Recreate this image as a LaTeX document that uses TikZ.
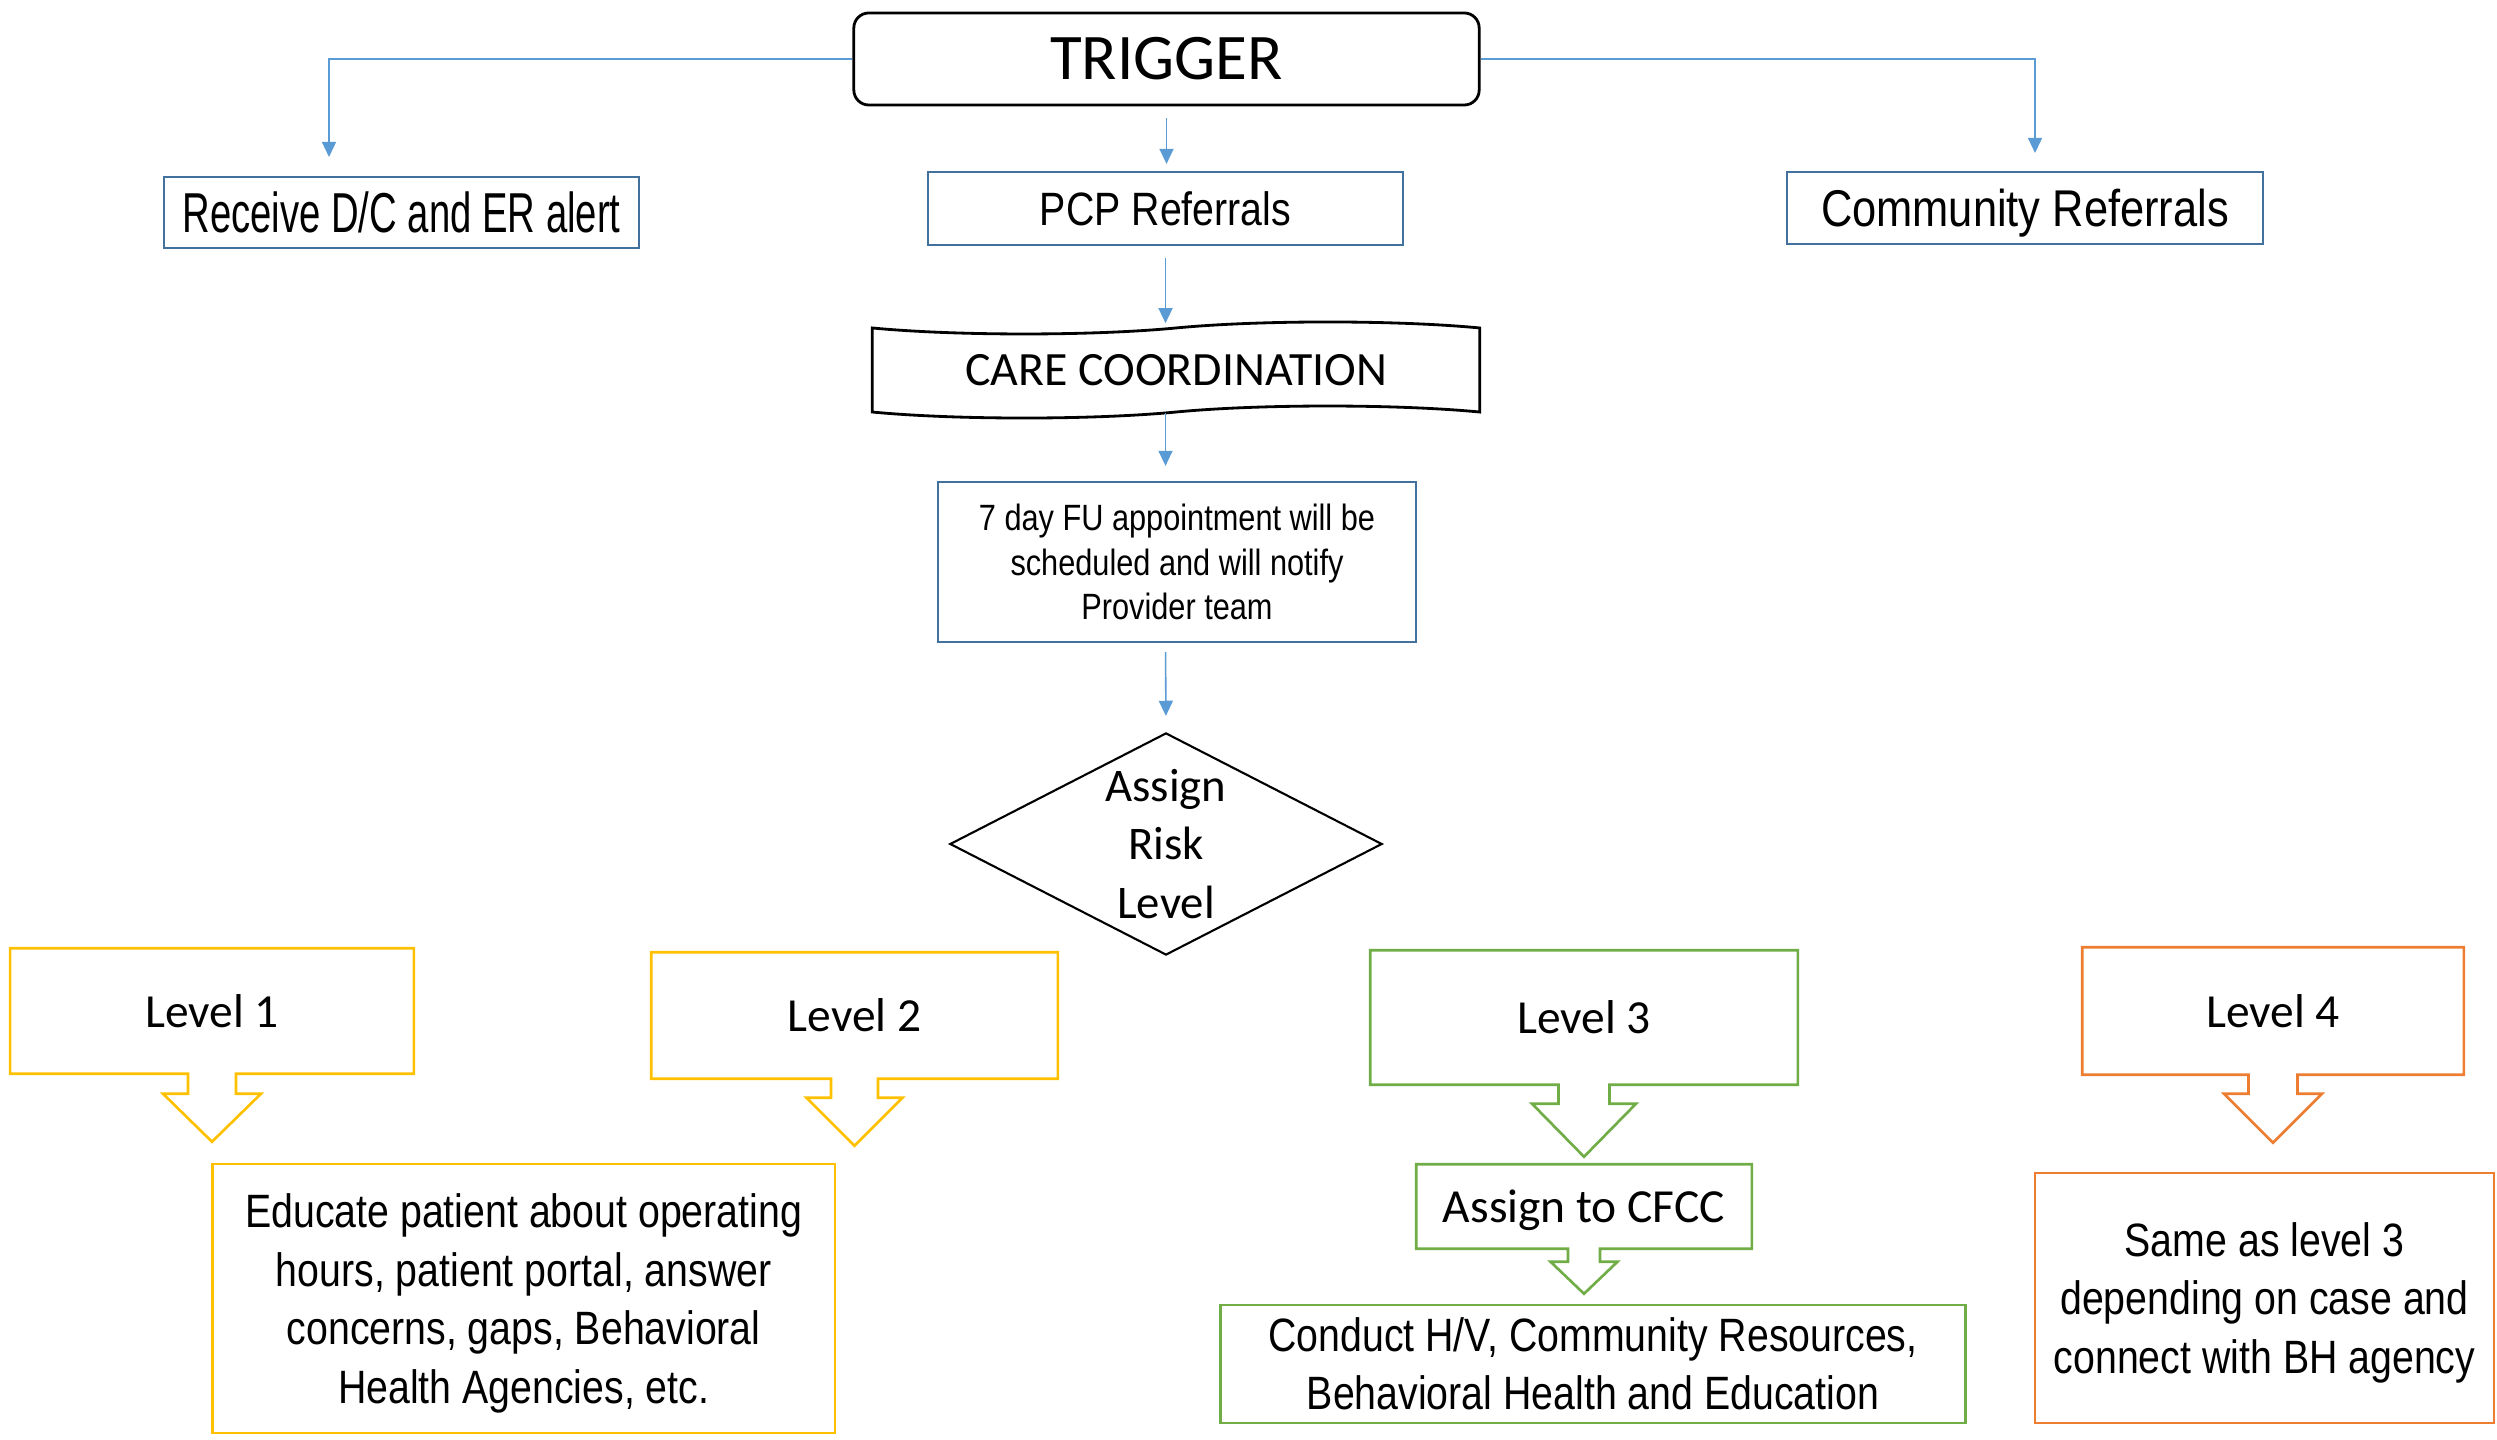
\documentclass[tikz,border=0pt]{standalone}
\usepackage{fontspec}
\setmainfont{Carlito}
\newfontfamily\narrowf[FakeStretch=0.84]{Liberation Sans}
\newfontfamily\widef[FakeStretch=0.68]{Liberation Sans}
\usetikzlibrary{shapes.geometric,shapes.symbols,arrows.meta,calc}
\definecolor{boxblue}{HTML}{41719C}
\definecolor{lineblue}{HTML}{5B9BD5}
\definecolor{lvlyellow}{HTML}{FFC000}
\definecolor{lvlgreen}{HTML}{70AD47}
\definecolor{lvlorange}{HTML}{ED7D31}
\tikzset{
  conn/.style={draw=lineblue, line width=0.45pt, -{Triangle[width=4pt,length=4.3pt]}},
  bluebox/.style={draw=boxblue, line width=0.6pt, inner sep=0pt, font=\narrowf\fontsize{13.3pt}{16.5pt}\selectfont},
  lvlbox/.style={inner sep=0pt, font=\fontsize{13.5pt}{16.5pt}\selectfont},
  textbox/.style={line width=0.75pt, inner sep=0pt, align=center, font=\narrowf\fontsize{13.3pt}{16.6pt}\selectfont},
  callout/.style={line width=0.75pt, line join=miter}
}
% box with a hollow down arrow under it
\newcommand{\levelarrow}[6][]{%
  \draw[callout, #1] (#2.south west) -- (#2.north west) -- (#2.north east) -- (#2.south east)
    -- ($(#2.south)+(#3,0)$) -- ($(#2.south)+(#3,#4)$) -- ($(#2.south)+(#5,#4)$)
    -- ($(#2.south)+(0,#4+#6)$) -- ($(#2.south)+(-#5,#4)$)
    -- ($(#2.south)+(-#3,#4)$) -- ($(#2.south)+(-#3,0)$) -- cycle;}
\begin{document}
\begin{tikzpicture}[x=0.01cm, y=-0.01cm]
\useasboundingbox (0,0) rectangle (2497,1440);
% top row
\node[draw, rounded corners=0.15cm, line width=0.8pt, minimum width=6.25cm, minimum height=0.92cm, font=\fontsize{18.5pt}{22pt}\selectfont] (trigger) at (1166.5,59) {TRIGGER};
\node[bluebox, minimum width=4.75cm, minimum height=0.71cm, font=\widef\fontsize{16pt}{19pt}\selectfont, text depth=0pt] (receive) at (401.5,212.5) {Receive D/C and ER alert};
\node[bluebox, minimum width=4.75cm, minimum height=0.73cm] (pcp) at (1165.5,208.5) {PCP Referrals};
\node[bluebox, minimum width=4.76cm, minimum height=0.72cm, font=\narrowf\fontsize{14.7pt}{17pt}\selectfont, text depth=0pt] (community) at (2025,208) {Community Referrals};
\coordinate (receivetip) at (329,157);
\coordinate (communitytip) at (2035,153);
\draw[conn] (trigger.west) -| (receivetip);
\draw[conn] (trigger.east) -| (communitytip);
\draw[conn, shorten <=0.12cm, shorten >=0.07cm] (trigger.south) -- (trigger.south |- pcp.north);
% middle column
\node[tape, draw, line width=0.8pt, minimum width=6.07cm, minimum height=0.96cm, tape bend height=0.12cm, inner sep=0pt, font=\fontsize{13.6pt}{16pt}\selectfont] (care) at (1176,370) {CARE COORDINATION};
\draw[conn, shorten <=0.12cm, shorten >=0.04cm] (pcp.south) -- (pcp.south |- care.north);
\node[bluebox, minimum width=4.78cm, minimum height=1.6cm, align=center, font=\narrowf\fontsize{10.4pt}{12.7pt}\selectfont] (fu) at (1177,562) {7 day FU appointment will be\\scheduled and will notify\\Provider team};
\draw[conn, shorten >=0.15cm] (care.south -| pcp) -- (fu.north -| pcp);
\node[diamond, draw, line width=0.6pt, minimum width=4.32cm, minimum height=2.22cm, inner sep=0pt] (risk) at (1166,844) {};
\node[align=center, font=\fontsize{13.3pt}{16.6pt}\selectfont] (risktext) at (risk) {Assign\\Risk\\Level};
\draw[conn, shorten <=0.09cm, shorten >=0.16cm] (fu.south -| pcp) -- (risk.north);
% levels
\node[lvlbox, minimum width=4.02cm, minimum height=1.24cm] (level1) at (212,1011) {Level 1};
\levelarrow[lvlyellow]{level1}{24}{20}{49}{48}
\node[lvlbox, minimum width=4.05cm, minimum height=1.25cm] (level2) at (854.5,1015.5) {Level 2};
\levelarrow[lvlyellow]{level2}{23.5}{19}{48}{48}
\node[lvlbox, minimum width=4.26cm, minimum height=1.33cm] (level3) at (1584,1017.5) {Level 3};
\levelarrow[lvlgreen]{level3}{25.5}{19}{52}{53}
\node[lvlbox, minimum width=3.8cm, minimum height=1.26cm] (level4) at (2273,1011) {Level 4};
\levelarrow[lvlorange]{level4}{24.5}{19}{49}{49}
% bottom row
\node[textbox, draw=lvlyellow, minimum width=6.22cm, minimum height=2.69cm, text depth=0pt] (educate) at (523.7,1298.5) {Educate patient about operating\\hours, patient portal, answer\\concerns, gaps, Behavioral\\Health Agencies, etc.};
\node[lvlbox, minimum width=3.34cm, minimum height=0.83cm, text depth=0pt] (cfcc) at (1584,1206.5) {Assign to CFCC};
\levelarrow[lvlgreen]{cfcc}{16}{13}{33.5}{32}
\node[textbox, draw=lvlgreen, minimum width=7.44cm, minimum height=1.18cm] (conduct) at (1593,1364) {Conduct H/V, Community Resources,\\Behavioral Health and Education};
\node[textbox, draw=lvlorange, minimum width=4.59cm, minimum height=2.5cm, text depth=0pt] (same) at (2264.5,1298) {Same as level 3\\depending on case and\\connect with BH agency};
\end{tikzpicture}
\end{document}
